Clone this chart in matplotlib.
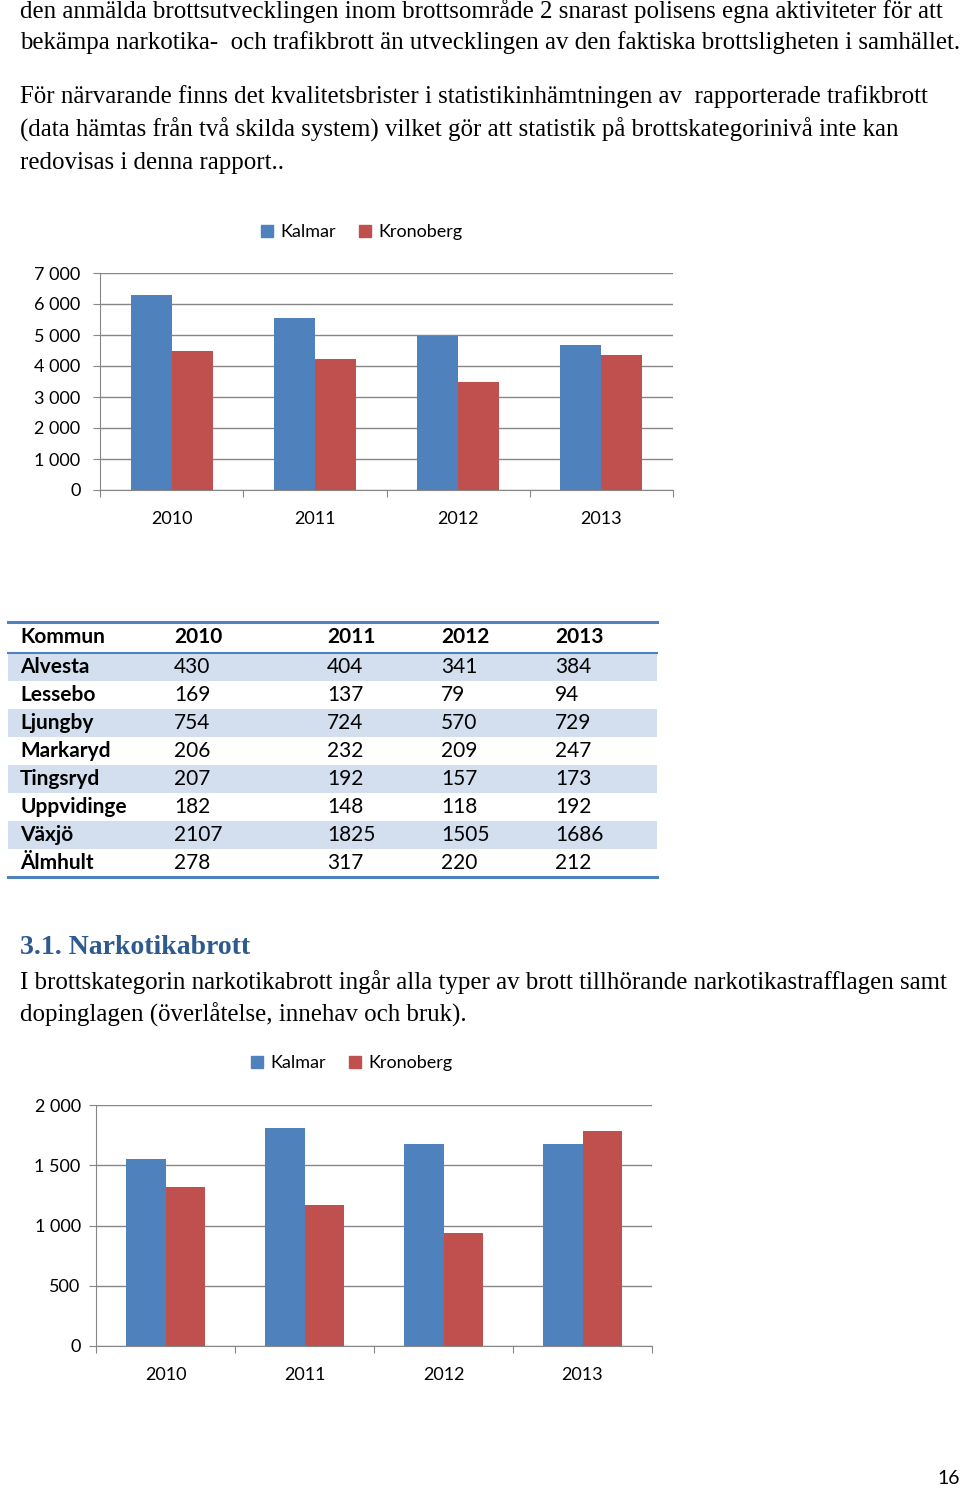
import matplotlib
matplotlib.use("Agg")
import matplotlib.pyplot as plt
from matplotlib.patches import Patch, Rectangle

# Data
years = ["2010", "2011", "2012", "2013"]
kalmar_total = [6300, 5535, 4975, 4665]
kronoberg_total = [4490, 4210, 3480, 4350]
kalmar_narko = [1556, 1806, 1673, 1673]
kronoberg_narko = [1318, 1168, 940, 1786]

kommuner = ["Alvesta", "Lessebo", "Ljungby", "Markaryd", "Tingsryd", "Uppvidinge", "Växjö", "Älmhult"]
tab_2010 = [430, 169, 754, 206, 207, 182, 2107, 278]
tab_2011 = [404, 137, 724, 232, 192, 148, 1825, 317]
tab_2012 = [341, 79, 570, 209, 157, 118, 1505, 220]
tab_2013 = [384, 94, 729, 247, 173, 192, 1686, 212]

text_top = [
    "den anmälda brottsutvecklingen inom brottsområde 2 snarast polisens egna aktiviteter för att",
    "bekämpa narkotika-  och trafikbrott än utvecklingen av den faktiska brottsligheten i samhället.",
    "För närvarande finns det kvalitetsbrister i statistikinhämtningen av  rapporterade trafikbrott",
    "(data hämtas från två skilda system) vilket gör att statistik på brottskategorinivå inte kan",
    "redovisas i denna rapport..",
]
text_top_y = [11, 43, 97, 130, 163]
heading = "3.1. Narkotikabrott"
text_mid = [
    "I brottskategorin narkotikabrott ingår alla typer av brott tillhörande narkotikastrafflagen samt",
    "dopinglagen (överlåtelse, innehav och bruk).",
]

W, H = 960, 1489
BLUE = "#4F81BD"
RED = "#C0504D"
GRID = "#868686"
CHART_FONT = "Lato"
SERIF = "Liberation Serif"

fig = plt.figure(figsize=(W / 100, H / 100), dpi=100)


def rect(x0, y0, x1, y1):
    return [x0 / W, 1 - y1 / H, (x1 - x0) / W, (y1 - y0) / H]


def fx(x):
    return x / W


def fy(y):
    return 1 - y / H


# page text
for line, y in zip(text_top, text_top_y):
    fig.text(fx(20), fy(y), line, family=SERIF, fontsize=17.9,
             va="center", ha="left")
fig.text(fx(20), fy(947), heading, family=SERIF, fontsize=20, weight="bold",
         color="#2E5B8F", va="center")
for i, line in enumerate(text_mid):
    fig.text(fx(20), fy(982 + 33 * i), line, family=SERIF, fontsize=17.9,
             va="center", ha="left")
fig.text(fx(960), fy(1479), "16", family=CHART_FONT, fontsize=14,
         va="center", ha="right")


def bar_chart(box, kal, kro, ymax, step, labels, legend_xy, ypad):
    ax = fig.add_axes(rect(*box))
    xs = list(range(len(years)))
    bw = 0.2857
    ax.bar([x - bw / 2 for x in xs], kal, bw, color=BLUE, zorder=3)
    ax.bar([x + bw / 2 for x in xs], kro, bw, color=RED, zorder=3)
    ax.set_xlim(-0.5, len(years) - 0.5)
    ax.set_ylim(0, ymax)
    ticks = list(range(0, ymax + 1, step))
    ax.set_yticks(ticks)
    ax.set_yticklabels(labels, family=CHART_FONT, fontsize=13)
    ax.yaxis.grid(True, color=GRID, lw=1)
    ax.set_axisbelow(True)
    ax.set_xticks([x - 0.5 for x in range(len(years) + 1)])
    ax.set_xticklabels([])
    ax.set_xticks(xs, minor=True)
    ax.set_xticklabels(years, minor=True, family=CHART_FONT, fontsize=13)
    ax.tick_params(axis="x", which="major", length=5, color=GRID, direction="out")
    ax.tick_params(axis="x", which="minor", length=0, pad=15)
    ax.tick_params(axis="y", length=5, color=GRID, pad=ypad)
    for s in ["top", "right"]:
        ax.spines[s].set_visible(False)
    for s in ["left", "bottom"]:
        ax.spines[s].set_color(GRID)
    handles = [Patch(color=BLUE, label="Kalmar"), Patch(color=RED, label="Kronoberg")]
    fig.legend(handles=handles, loc="center", ncol=2, frameon=False,
               bbox_to_anchor=(fx(legend_xy[0]), fy(legend_xy[1])),
               prop={"family": CHART_FONT, "size": 13},
               handlelength=0.65, handleheight=0.65, handletextpad=0.4,
               columnspacing=1.3)
    return ax


bar_chart((100, 273, 673, 490), kalmar_total, kronoberg_total, 7000, 1000,
          ["0", "1 000", "2 000", "3 000", "4 000", "5 000", "6 000", "7 000"],
          (362, 232), 9)
bar_chart((96, 1105, 652, 1346), kalmar_narko, kronoberg_narko, 2000, 500,
          ["0", "500", "1 000", "1 500", "2 000"], (352, 1063), 6)

# table
tax = fig.add_axes([0, 0, 1, 1])
tax.set_xlim(0, W)
tax.set_ylim(H, 0)
tax.axis("off")
col_x = [20, 174, 327, 441, 555]
row_h = 28
top = 622
header_y = 637
first_y = 667
fs = 15
for i, name in enumerate(kommuner):
    yc = first_y + i * row_h
    if i % 2 == 0:
        tax.add_patch(Rectangle((8, yc - row_h / 2), 657 - 8, row_h,
                                color="#D3DFEE", lw=0, zorder=0))
    vals = [tab_2010[i], tab_2011[i], tab_2012[i], tab_2013[i]]
    tax.text(col_x[0], yc, name, family=CHART_FONT, fontsize=fs, weight="bold",
             va="center")
    for cx, v in zip(col_x[1:], vals):
        tax.text(cx, yc, str(v), family=CHART_FONT, fontsize=fs, va="center")
tax.text(col_x[0], header_y, "Kommun", family=CHART_FONT, fontsize=fs,
         weight="bold", va="center")
for cx, yr in zip(col_x[1:], years):
    tax.text(cx, header_y, yr, family=CHART_FONT, fontsize=fs, weight="bold",
             va="center")
tax.plot([8, 657], [top, top], color=BLUE, lw=2.2)
tax.plot([8, 657], [first_y - row_h / 2, first_y - row_h / 2], color=BLUE, lw=1.5)
bottom = first_y + (len(kommuner) - 0.5) * row_h
tax.plot([8, 657], [bottom, bottom], color=BLUE, lw=2.2)

fig.savefig("out.png", dpi=100, facecolor="white")
